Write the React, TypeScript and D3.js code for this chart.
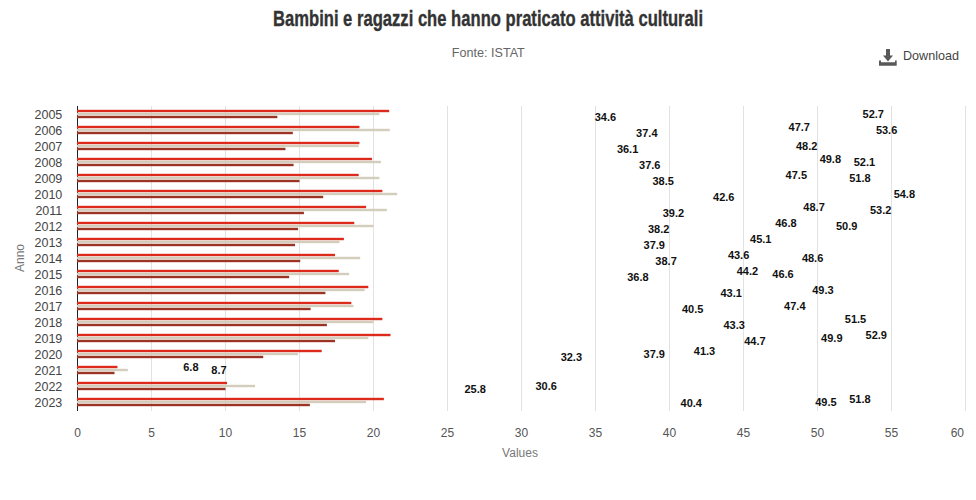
import React from "react";
import * as d3 from "d3";

const years = ["2005","2006","2007","2008","2009","2010","2011","2012","2013","2014","2015","2016","2017","2018","2019","2020","2021","2022","2023"];
const redBars = [21.06,19.05,19.05,19.9,19.0,20.6,19.5,18.7,18.0,17.4,17.65,19.65,18.5,20.6,21.15,16.5,2.7,10.1,20.7];
const beigeBars = [20.4,21.1,19.0,20.5,20.4,21.6,20.9,20.0,17.7,19.1,18.35,19.4,18.65,20.0,19.65,14.9,3.4,12.0,19.5];
const darkBars = [13.5,14.55,14.05,14.6,15.0,16.6,15.3,14.9,14.7,15.05,14.3,16.75,15.75,16.85,17.4,12.55,2.5,10.0,15.7];
const redLabels = [null,47.7,null,49.8,47.5,null,48.7,46.8,45.1,43.6,44.2,null,null,51.5,52.9,41.3,6.8,null,51.8];
const beigeLabels = [52.7,53.6,48.2,52.1,51.8,54.8,53.2,50.9,null,48.6,46.6,49.3,47.4,null,49.9,37.9,8.7,30.6,49.5];
const darkLabels = [34.6,37.4,36.1,37.6,38.5,42.6,39.2,38.2,37.9,38.7,36.8,43.1,40.5,43.3,44.7,32.3,null,25.8,40.4];
const xTicks = [0,5,10,15,20,25,30,35,40,45,50,55,60];

const series = [
  { bars: redBars, labels: redLabels, color: "#dc2a1c", offset: -3, top: -4.2 },
  { bars: beigeBars, labels: beigeLabels, color: "#d3cdbc", offset: 0, top: -1.2 },
  { bars: darkBars, labels: darkLabels, color: "#9c3324", offset: 3, top: 1.8 },
];

const sans = "'Liberation Sans', Arial, sans-serif";

export default function App() {
  const x = d3.scaleLinear().domain([0, 60]).range([77.5, 965.5]);
  const y = d3.scaleBand().domain(years).range([106, 410]);
  const top = 106;
  const bottom = 411;
  return (
    <svg width={976} height={500} style={{ position: "absolute", left: 0, top: 0, background: "#fff" }} fontFamily={sans}>
      <text x={488} y={26} textAnchor="middle" fontFamily="'Liberation Sans Narrow', 'Liberation Sans', sans-serif" fontWeight={700} fontSize={22} fill="#333333" stroke="#333333" strokeWidth={0.35} textLength={430} lengthAdjust="spacingAndGlyphs">
        Bambini e ragazzi che hanno praticato attività culturali
      </text>
      <text x={488.3} y={57} textAnchor="middle" fontSize={12.6} fill="#666666">Fonte: ISTAT</text>

      <g fill="#595959">
        <rect x={886} y={49} width={4} height={7} />
        <path d="M883 55.5 L893 55.5 L888 61.5 Z" />
        <path d="M879 60.5 L881 60.5 L881 62.3 L895 62.3 L895 60.5 L896.7 60.5 L896.7 65.7 L879 65.7 Z" />
      </g>
      <text x={903} y={60} fontSize={12.6} fill="#444444">Download</text>

      {xTicks.slice(1).map((t) => (
        <line key={t} x1={x(t)} x2={x(t)} y1={top} y2={bottom} stroke="#e2e2e2" strokeWidth={1} />
      ))}
      <line x1={77.5} x2={77.5} y1={top} y2={bottom} stroke="#222222" strokeWidth={1} />

      {series.map((s, i) => (
        <g key={i} fill={s.color}>
          {years.map((yr, j) => (
            <rect key={yr} x={x(0) - 0.5} y={y(yr)! + y.bandwidth() / 2 + s.top} width={x(s.bars[j]) - x(0) + 0.5} height={2.4} />
          ))}
        </g>
      ))}

      {series.map((s, i) => (
        <g key={i} fontSize={11} fontWeight={700} fill="#111111">
          {years.map((yr, j) =>
            s.labels[j] == null ? null : (
              <text key={yr} x={x(s.labels[j] as number) + 5.1} y={Math.min(y(yr)! + y.bandwidth() / 2 + s.offset + 3.8, 407.2)}>
                {(s.labels[j] as number).toFixed(1)}
              </text>
            )
          )}
        </g>
      ))}

      {years.map((yr) => (
        <text key={yr} x={62.3} y={y(yr)! + y.bandwidth() / 2 + 5} textAnchor="end" fontSize={12.5} fill="#444444">{yr}</text>
      ))}
      {xTicks.map((t) => (
        <text key={t} x={t === 60 ? 964 : x(t)} y={437} textAnchor={t === 60 ? "end" : "middle"} fontSize={12} fill="#555555">{t}</text>
      ))}
      <text x={520} y={457} textAnchor="middle" fontSize={12} fill="#777777">Values</text>
      <text transform="translate(24,258) rotate(-90)" textAnchor="middle" fontSize={12} fill="#777777">Anno</text>
    </svg>
  );
}
